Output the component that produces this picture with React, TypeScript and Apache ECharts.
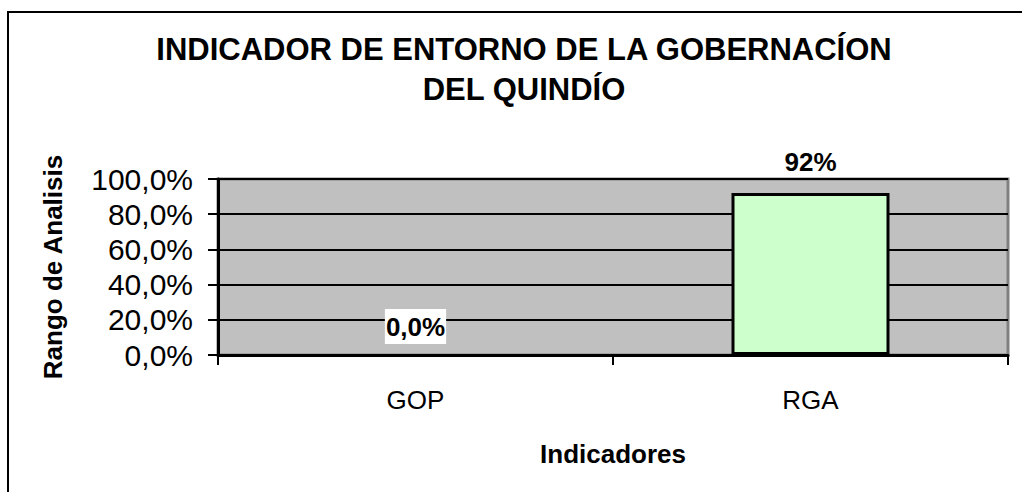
import React, { useEffect, useRef } from "react";
import * as echarts from "echarts";

const categories = ["GOP", "RGA"];
const values = [0, 0.92];
const valueLabels = ["0,0%", "92%"];
const yTicks = { min: 0, max: 1, interval: 0.2 };

const FONT = "'Liberation Sans', Arial, sans-serif";

export default function App() {
  const ref = useRef<HTMLDivElement>(null);
  useEffect(() => {
    if (!ref.current) return;
    const chart = echarts.init(ref.current, null, { renderer: "svg" });
    chart.setOption({
      animation: false,
      backgroundColor: "#ffffff",
      textStyle: { fontFamily: FONT },
      title: {
        text: "INDICADOR DE ENTORNO DE LA GOBERNACÍON\nDEL QUINDÍO",
        left: 519,
        top: 24,
        textAlign: "center",
        textStyle: { fontFamily: FONT, fontSize: 31, fontWeight: "bold", color: "#000", lineHeight: 40 },
      },
      graphic: [
        {
          type: "rect",
          shape: { x: 8, y: 12, width: 1200, height: 600 },
          style: { fill: "none", stroke: "#000", lineWidth: 2 },
          silent: true,
          z: 100,
        },
      ],
      grid: {
        left: 218,
        top: 179,
        right: 14,
        bottom: 137,
        show: true,
        backgroundColor: "#C0C0C0",
        borderColor: "#808080",
        borderWidth: 3,
      },
      xAxis: {
        type: "category",
        data: categories,
        name: "Indicadores",
        nameLocation: "middle",
        nameGap: 86,
        nameTextStyle: { fontFamily: FONT, fontSize: 26, fontWeight: "bold", color: "#000" },
        axisLine: { show: true, lineStyle: { color: "#000", width: 3 } },
        axisTick: { show: true, length: 10, lineStyle: { color: "#000", width: 2 } },
        axisLabel: { fontFamily: FONT, fontSize: 26, color: "#000", margin: 32 },
        splitLine: { show: false },
      },
      yAxis: {
        type: "value",
        min: yTicks.min,
        max: yTicks.max,
        interval: yTicks.interval,
        name: "Rango de Analisis",
        nameLocation: "middle",
        nameRotate: 90,
        nameGap: 152,
        nameTextStyle: { fontFamily: FONT, fontSize: 26, fontWeight: "bold", color: "#000" },
        axisLine: { show: true, lineStyle: { color: "#000", width: 3 } },
        axisTick: { show: true, length: 10, lineStyle: { color: "#000", width: 2 } },
        axisLabel: {
          fontFamily: FONT,
          fontSize: 30,
          color: "#000",
          margin: 25,
          formatter: (v: number) => (v * 100).toFixed(1).replace(".", ",") + "%",
        },
        splitLine: { show: true, lineStyle: { color: "#000", width: 2 } },
      },
      series: [
        {
          type: "bar",
          barWidth: "40%",
          itemStyle: { color: "#CCFFCC", borderColor: "#000", borderWidth: 3 },
          data: values.map((v, i) => ({
            value: v,
            itemStyle: v === 0 ? { borderWidth: 0, color: "transparent" } : undefined,
            label:
              i === 0
                ? {
                    show: true,
                    position: "top",
                    distance: 11,
                    formatter: valueLabels[i],
                    fontFamily: FONT,
                    fontSize: 26,
                    fontWeight: "bold",
                    color: "#000",
                    backgroundColor: "#fff",
                    lineHeight: 30,
                    padding: [3, 1, 2, 1],
                  }
                : {
                    show: true,
                    position: "top",
                    distance: 18,
                    formatter: valueLabels[i],
                    fontFamily: FONT,
                    fontSize: 26,
                    fontWeight: "bold",
                    color: "#000",
                  },
          })),
        },
      ],
    });
    return () => chart.dispose();
  }, []);
  return (
    <div
      ref={ref}
      style={{ position: "fixed", left: 0, top: 0, width: 1022, height: 492 }}
    />
  );
}
